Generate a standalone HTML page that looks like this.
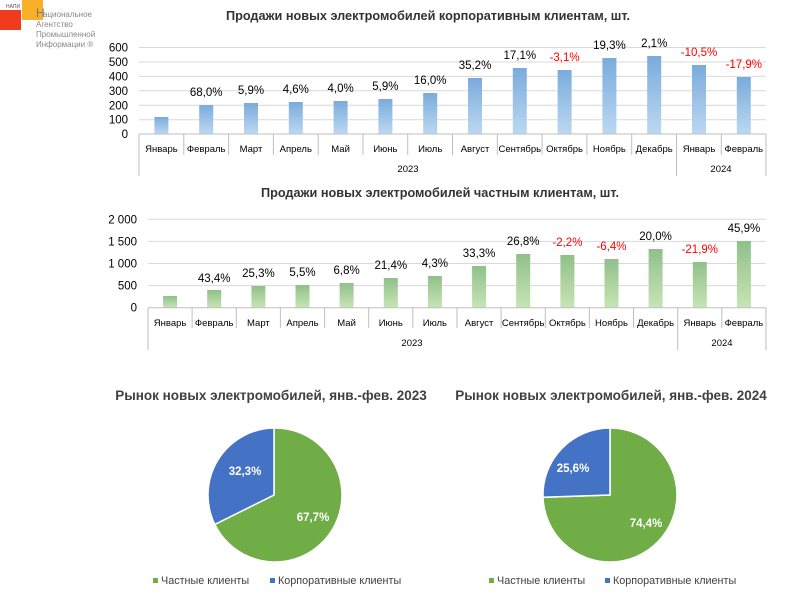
<!DOCTYPE html>
<html><head><meta charset="utf-8"><style>
body{margin:0;background:#fff;}
svg{display:block;font-family:"Liberation Sans",sans-serif;}
</style></head><body>
<svg width="800" height="595" viewBox="0 0 800 595" xmlns="http://www.w3.org/2000/svg">
<defs>
<linearGradient id="gb" x1="0" y1="0" x2="0" y2="1"><stop offset="0" stop-color="#7aabdc"/><stop offset="1" stop-color="#bcd8f1"/></linearGradient>
<linearGradient id="gg" x1="0" y1="0" x2="0" y2="1"><stop offset="0" stop-color="#90c08a"/><stop offset="1" stop-color="#c7e4b5"/></linearGradient>
</defs>
<!-- logo -->
<rect x="0" y="10" width="21" height="20" fill="#f03c1c"/>
<rect x="22" y="0" width="21" height="20" fill="#f8b02a"/>
<text x="6" y="8" font-size="5" fill="#555">НАПИ</text>
<text x="36" y="17" font-size="12" fill="#777">Н</text>
<text x="43" y="17" font-size="8" fill="#888">ациональное</text>
<text x="36" y="27" font-size="8" fill="#888">Агентство</text>
<text x="36" y="37" font-size="8" fill="#888">Промышленной</text>
<text x="36" y="47" font-size="8" fill="#888">Информации ®</text>

<!-- chart1 -->
<text x="428" y="20" font-size="12.7" font-weight="bold" text-anchor="middle" fill="#333">Продажи новых электромобилей корпоративным клиентам, шт.</text>
<g stroke="#d9d9d9" stroke-width="1">
<line x1="139" y1="47.5" x2="766" y2="47.5"/><line x1="139" y1="62" x2="766" y2="62"/><line x1="139" y1="76.4" x2="766" y2="76.4"/><line x1="139" y1="90.8" x2="766" y2="90.8"/><line x1="139" y1="105.3" x2="766" y2="105.3"/><line x1="139" y1="119.7" x2="766" y2="119.7"/>
</g>
<g font-size="11.5" text-anchor="end" fill="#000">
<text x="128" y="51.5">600</text><text x="128" y="66">500</text><text x="128" y="80.4">400</text><text x="128" y="94.8">300</text><text x="128" y="109.3">200</text><text x="128" y="123.7">100</text><text x="128" y="138">0</text>
</g>
<g fill="url(#gb)">
<rect x="154.4" y="117" width="14" height="17"/><rect x="199.2" y="105" width="14" height="29"/><rect x="244" y="103" width="14" height="31"/><rect x="288.8" y="102" width="14" height="32"/><rect x="333.6" y="101" width="14" height="33"/><rect x="378.4" y="99" width="14" height="35"/><rect x="423.2" y="93" width="14" height="41"/><rect x="468" y="78" width="14" height="56"/><rect x="512.8" y="68" width="14" height="66"/><rect x="557.6" y="70" width="14" height="64"/><rect x="602.4" y="58" width="14" height="76"/><rect x="647.2" y="56" width="14" height="78"/><rect x="692" y="65" width="14" height="69"/><rect x="736.8" y="77" width="14" height="57"/>
</g>
<g font-size="11.5" text-anchor="middle" fill="#000">
<text x="206.2" y="96">68,0%</text><text x="251" y="94">5,9%</text><text x="295.8" y="93">4,6%</text><text x="340.6" y="92">4,0%</text><text x="385.4" y="90">5,9%</text><text x="430.2" y="84">16,0%</text><text x="475" y="69">35,2%</text><text x="519.8" y="59">17,1%</text><text x="564.6" y="61" fill="#f00">-3,1%</text><text x="609.4" y="49">19,3%</text><text x="654.2" y="47">2,1%</text><text x="699" y="56" fill="#f00">-10,5%</text><text x="743.8" y="68" fill="#f00">-17,9%</text>
</g>
<g stroke="#bfbfbf" stroke-width="1">
<line x1="139" y1="134" x2="766" y2="134"/>
<line x1="139" y1="134" x2="139" y2="176"/><line x1="676.5" y1="134" x2="676.5" y2="176"/><line x1="766" y1="134" x2="766" y2="176"/>
<line x1="183.8" y1="134" x2="183.8" y2="155"/><line x1="228.6" y1="134" x2="228.6" y2="155"/><line x1="273.4" y1="134" x2="273.4" y2="155"/><line x1="318.2" y1="134" x2="318.2" y2="155"/><line x1="363" y1="134" x2="363" y2="155"/><line x1="407.7" y1="134" x2="407.7" y2="155"/><line x1="452.5" y1="134" x2="452.5" y2="155"/><line x1="497.3" y1="134" x2="497.3" y2="155"/><line x1="542.1" y1="134" x2="542.1" y2="155"/><line x1="586.9" y1="134" x2="586.9" y2="155"/><line x1="631.7" y1="134" x2="631.7" y2="155"/><line x1="721.3" y1="134" x2="721.3" y2="155"/>
</g>
<g font-size="9.5" text-anchor="middle" fill="#000">
<text x="161.4" y="152">Январь</text><text x="206.2" y="152">Февраль</text><text x="251" y="152">Март</text><text x="295.8" y="152">Апрель</text><text x="340.6" y="152">Май</text><text x="385.4" y="152">Июнь</text><text x="430.2" y="152">Июль</text><text x="475" y="152">Август</text><text x="519.8" y="152">Сентябрь</text><text x="564.6" y="152">Октябрь</text><text x="609.4" y="152">Ноябрь</text><text x="654.2" y="152">Декабрь</text><text x="699" y="152">Январь</text><text x="743.8" y="152">Февраль</text>
<text x="408" y="172">2023</text><text x="721" y="172">2024</text>
</g>

<!-- chart2 -->
<text x="440" y="197" font-size="12.7" font-weight="bold" text-anchor="middle" fill="#333">Продажи новых электромобилей частным клиентам, шт.</text>
<g stroke="#d9d9d9" stroke-width="1">
<line x1="148" y1="219.3" x2="766" y2="219.3"/><line x1="148" y1="241.4" x2="766" y2="241.4"/><line x1="148" y1="263.5" x2="766" y2="263.5"/><line x1="148" y1="285.6" x2="766" y2="285.6"/>
</g>
<g font-size="11.5" text-anchor="end" fill="#000">
<text x="137" y="223.3">2 000</text><text x="137" y="245.4">1 500</text><text x="137" y="267.5">1 000</text><text x="137" y="289.6">500</text><text x="137" y="311.7">0</text>
</g>
<g fill="url(#gg)">
<rect x="163.1" y="296" width="14" height="11.7"/><rect x="207.2" y="290" width="14" height="17.7"/><rect x="251.4" y="286" width="14" height="21.7"/><rect x="295.5" y="285" width="14" height="22.7"/><rect x="339.6" y="283" width="14" height="24.7"/><rect x="383.8" y="278" width="14" height="29.7"/><rect x="427.9" y="276" width="14" height="31.7"/><rect x="472.1" y="266" width="14" height="41.7"/><rect x="516.2" y="254" width="14" height="53.7"/><rect x="560.4" y="255" width="14" height="52.7"/><rect x="604.5" y="259" width="14" height="48.7"/><rect x="648.6" y="249" width="14" height="58.7"/><rect x="692.8" y="262" width="14" height="45.7"/><rect x="736.9" y="241" width="14" height="66.7"/>
</g>
<g font-size="11.5" text-anchor="middle" fill="#000">
<text x="214.2" y="282">43,4%</text><text x="258.4" y="277">25,3%</text><text x="302.5" y="276">5,5%</text><text x="346.6" y="274">6,8%</text><text x="390.8" y="269">21,4%</text><text x="434.9" y="267">4,3%</text><text x="479.1" y="257">33,3%</text><text x="523.2" y="245">26,8%</text><text x="567.4" y="246" fill="#f00">-2,2%</text><text x="611.5" y="250" fill="#f00">-6,4%</text><text x="655.6" y="240">20,0%</text><text x="699.8" y="253" fill="#f00">-21,9%</text><text x="743.9" y="232">45,9%</text>
</g>
<g stroke="#bfbfbf" stroke-width="1">
<line x1="148" y1="307.7" x2="766" y2="307.7"/>
<line x1="148" y1="307.7" x2="148" y2="350"/><line x1="677.7" y1="307.7" x2="677.7" y2="350"/><line x1="766" y1="307.7" x2="766" y2="350"/>
<line x1="192.1" y1="307.7" x2="192.1" y2="328"/><line x1="236.3" y1="307.7" x2="236.3" y2="328"/><line x1="280.4" y1="307.7" x2="280.4" y2="328"/><line x1="324.6" y1="307.7" x2="324.6" y2="328"/><line x1="368.7" y1="307.7" x2="368.7" y2="328"/><line x1="412.8" y1="307.7" x2="412.8" y2="328"/><line x1="457" y1="307.7" x2="457" y2="328"/><line x1="501.1" y1="307.7" x2="501.1" y2="328"/><line x1="545.3" y1="307.7" x2="545.3" y2="328"/><line x1="589.4" y1="307.7" x2="589.4" y2="328"/><line x1="633.5" y1="307.7" x2="633.5" y2="328"/><line x1="721.8" y1="307.7" x2="721.8" y2="328"/>
</g>
<g font-size="9.5" text-anchor="middle" fill="#000">
<text x="170.1" y="326">Январь</text><text x="214.2" y="326">Февраль</text><text x="258.4" y="326">Март</text><text x="302.5" y="326">Апрель</text><text x="346.6" y="326">Май</text><text x="390.8" y="326">Июнь</text><text x="434.9" y="326">Июль</text><text x="479.1" y="326">Август</text><text x="523.2" y="326">Сентябрь</text><text x="567.4" y="326">Октябрь</text><text x="611.5" y="326">Ноябрь</text><text x="655.6" y="326">Декабрь</text><text x="699.8" y="326">Январь</text><text x="743.9" y="326">Февраль</text>
<text x="412" y="346">2023</text><text x="722" y="346">2024</text>
</g>

<!-- pies -->
<text x="271" y="400" font-size="13.5" font-weight="bold" text-anchor="middle" fill="#404040">Рынок новых электромобилей, янв.-фев. 2023</text>
<path d="M274,495 L274,428 A67,67 0 1 1 214.8,524.4 Z" fill="#70ad47" stroke="#fff" stroke-width="1.5"/>
<path d="M274,495 L214.8,524.4 A67,67 0 0 1 274,428 Z" fill="#4472c4" stroke="#fff" stroke-width="1.5"/>
<text x="245" y="475" font-size="11.5" font-weight="bold" fill="#fff" text-anchor="middle">32,3%</text>
<text x="313" y="521" font-size="11.5" font-weight="bold" fill="#fff" text-anchor="middle">67,7%</text>
<rect x="153" y="578" width="5" height="5" fill="#70ad47"/><text x="161" y="584" font-size="10.8" fill="#404040">Частные клиенты</text>
<rect x="270" y="578" width="5" height="5" fill="#4472c4"/><text x="278" y="584" font-size="10.8" fill="#404040">Корпоративные клиенты</text>

<text x="611" y="400" font-size="13.5" font-weight="bold" text-anchor="middle" fill="#404040">Рынок новых электромобилей, янв.-фев. 2024</text>
<path d="M610,495 L610,428 A67,67 0 1 1 543,497.3 Z" fill="#70ad47" stroke="#fff" stroke-width="1.5"/>
<path d="M610,495 L543,497.3 A67,67 0 0 1 610,428 Z" fill="#4472c4" stroke="#fff" stroke-width="1.5"/>
<text x="573" y="472" font-size="11.5" font-weight="bold" fill="#fff" text-anchor="middle">25,6%</text>
<text x="646" y="527" font-size="11.5" font-weight="bold" fill="#fff" text-anchor="middle">74,4%</text>
<rect x="489" y="578" width="5" height="5" fill="#70ad47"/><text x="497" y="584" font-size="10.8" fill="#404040">Частные клиенты</text>
<rect x="605" y="578" width="5" height="5" fill="#4472c4"/><text x="613" y="584" font-size="10.8" fill="#404040">Корпоративные клиенты</text>
</svg>
</body></html>
